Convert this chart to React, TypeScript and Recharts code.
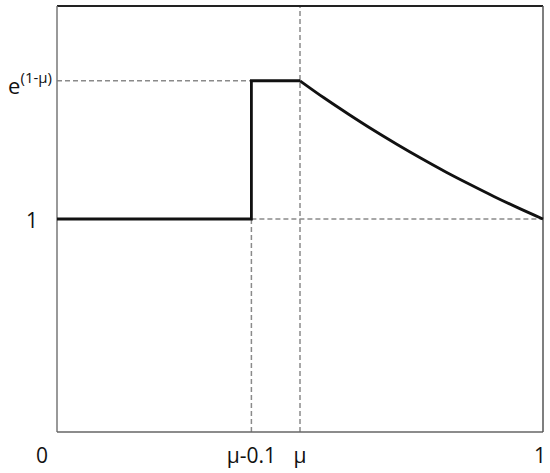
import React from "react";
import { LineChart, Line, XAxis, YAxis, ReferenceLine } from "recharts";

const MU = 0.5;
const PEAK = 1.649;

// step part
const stepX = [0, 0.4, 0.4, 0.5];
const stepY = [1, 1, 1.649, 1.649];
// decaying part
const curveX = [0.5, 0.55, 0.6, 0.65, 0.7, 0.75, 0.8, 0.85, 0.9, 0.95, 1.0];
const curveY = [1.649, 1.568, 1.492, 1.419, 1.35, 1.284, 1.221, 1.162, 1.105, 1.051, 1.0];

const data = [
  ...stepX.map((x, i) => ({ x, y: stepY[i], c: null as number | null })),
  ...curveX.map((x, i) => ({ x, y: null as number | null, c: curveY[i] })),
];

const xTicks = [0, 0.4, 0.5, 1];
const xTickLabels: Record<string, string> = { "0": "0", "0.4": "μ-0.1", "0.5": "μ", "1": "1" };
const yTicks = [1, PEAK];

const FONT = "'Open Sans', 'Noto Sans', sans-serif";
const DASH = "5 3";
const DASH_COLOR = "#8a8a8a";

const XTick = (props: any) => {
  const { x, y, payload } = props;
  const v = payload.value;
  const dx = v === 0 ? -15 : v === 1 ? -3 : 0;
  return (
    <text x={x + dx} y={y + 31} textAnchor="middle" fontSize={21} fontFamily={FONT} fill="#111">
      {xTickLabels[String(v)]}
    </text>
  );
};

const YTick = (props: any) => {
  const { x, y, payload } = props;
  if (payload.value === 1) {
    return (
      <text x={x - 19} y={y + 9} textAnchor="end" fontSize={21} fontFamily={FONT} fill="#111">
        1
      </text>
    );
  }
  return (
    <text x={x - 5} y={y + 13} textAnchor="end" fontSize={22} fontFamily={FONT} fill="#111">
      <tspan>e</tspan>
      <tspan dy={-11} fontSize={15}>(1-μ)</tspan>
    </text>
  );
};

export default function App() {
  return (
    <div style={{ position: "absolute", left: 0, top: 0, background: "#fff" }}>
      <LineChart
        width={550}
        height={473}
        data={data}
        margin={{ top: 6, right: 7, left: 0, bottom: 0 }}
      >
        <XAxis
          dataKey="x"
          type="number"
          domain={[0, 1]}
          ticks={xTicks}
          tick={<XTick />}
          tickLine={false}
          axisLine={false}
          tickSize={0}
          tickMargin={0}
          height={41}
          interval={0}
        />
        <YAxis
          type="number"
          domain={[0, 2]}
          ticks={yTicks}
          tick={<YTick />}
          tickLine={false}
          axisLine={false}
          tickSize={0}
          tickMargin={0}
          width={57}
          interval={0}
        />
        {/* dashed guide lines */}
        <ReferenceLine
          segment={[{ x: 0, y: PEAK }, { x: 0.4, y: PEAK }]}
          stroke={DASH_COLOR}
          strokeWidth={1.5}
          strokeDasharray={DASH}
        />
        <ReferenceLine
          segment={[{ x: 0.4, y: 1 }, { x: 1, y: 1 }]}
          stroke={DASH_COLOR}
          strokeWidth={1.5}
          strokeDasharray={DASH}
        />
        <ReferenceLine
          segment={[{ x: 0.4, y: 0 }, { x: 0.4, y: 1 }]}
          stroke={DASH_COLOR}
          strokeWidth={1.5}
          strokeDasharray={DASH}
        />
        <ReferenceLine x={MU} stroke={DASH_COLOR} strokeWidth={1.5} strokeDasharray={DASH} />
        {/* frame */}
        <ReferenceLine y={2} stroke="#222" strokeWidth={2} />
        <ReferenceLine x={0} stroke="#777" strokeWidth={1.5} />
        <ReferenceLine y={0} stroke="#666" strokeWidth={1.5} />
        <ReferenceLine x={1} stroke="#555" strokeWidth={1.5} />
        <Line
          type="linear"
          dataKey="y"
          stroke="#111"
          strokeWidth={2.8}
          dot={false}
          isAnimationActive={false}
          strokeLinejoin="miter"
        />
        <Line
          type="monotone"
          dataKey="c"
          stroke="#111"
          strokeWidth={2.8}
          dot={false}
          isAnimationActive={false}
        />
      </LineChart>
    </div>
  );
}
